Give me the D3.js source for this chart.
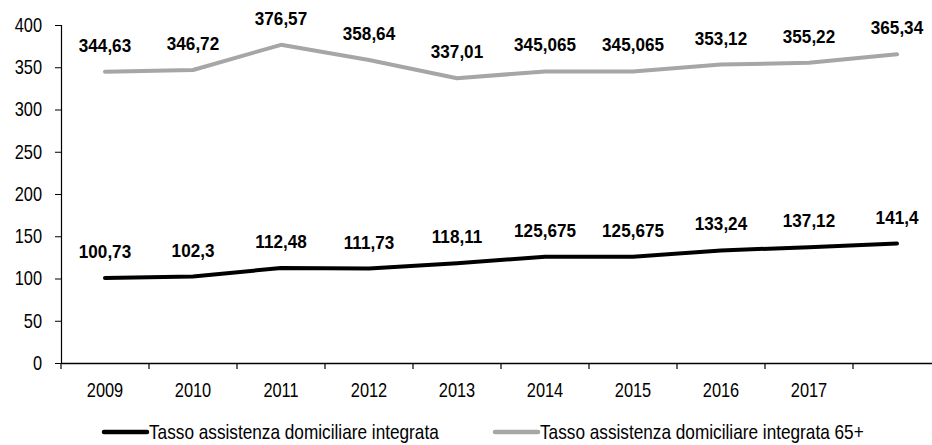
<html>
<head>
    <meta charset="utf-8">
    <style>
        body { margin: 0; background: #fff; }
        text { font-family: "Liberation Sans", Arial, sans-serif; }
    </style>
</head>
<body>
    <script src="https://cdn.jsdelivr.net/npm/d3@7"></script>
    <script>
        var years = ["2009", "2010", "2011", "2012", "2013", "2014", "2015", "2016", "2017", ""];
        var adi = [100.73, 102.3, 112.48, 111.73, 118.11, 125.675, 125.675, 133.24, 137.12, 141.4];
        var adi65 = [344.63, 346.72, 376.57, 358.64, 337.01, 345.065, 345.065, 353.12, 355.22, 365.34];
        var adiLabels = ["100,73", "102,3", "112,48", "111,73", "118,11", "125,675", "125,675", "133,24", "137,12", "141,4"];
        var adi65Labels = ["344,63", "346,72", "376,57", "358,64", "337,01", "345,065", "345,065", "353,12", "355,22", "365,34"];
        var yTicks = [0, 50, 100, 150, 200, 250, 300, 350, 400];
        var seriesNames = ["Tasso assistenza domiciliare integrata", "Tasso assistenza domiciliare integrata 65+"];

        var width = 932, height = 445;
        var narrow = 0.82; // simula Arial Narrow
        var svg = d3.select("body").append("svg")
            .attr("width", width)
            .attr("height", height);

        var x = d3.scaleBand().domain(d3.range(years.length)).range([61, 941]);
        var y = d3.scaleLinear().domain([0, 400]).range([363, 25]);

        // asse y
        svg.append("g")
            .attr("transform", "translate(61,0)")
            .call(d3.axisLeft(y).tickValues(yTicks).tickSize(6))
            .call(g => g.select(".domain").attr("stroke", "#000").attr("stroke-width", 1.2))
            .call(g => g.selectAll("text")
                .attr("font-size", 20).attr("fill", "#000")
                .attr("x", -19 / narrow)
                .attr("transform", "scale(" + narrow + ",1)")
                .style("font-family", '"Liberation Sans", Arial, sans-serif'));

        // asse x
        svg.append("g")
            .attr("transform", "translate(0,363)")
            .call(d3.axisBottom(x).tickSize(0).tickFormat(i => years[i]).tickPadding(20))
            .call(g => g.select(".domain").attr("stroke", "#000").attr("stroke-width", 1.5))
            .call(g => g.selectAll("text")
                .attr("font-size", 20).attr("fill", "#000")
                .attr("transform", "scale(" + narrow + ",1)")
                .style("font-family", '"Liberation Sans", Arial, sans-serif'));

        // tacche tra le categorie
        svg.append("g").selectAll("line")
            .data(d3.range(years.length))
            .enter().append("line")
            .attr("x1", i => x(i)).attr("x2", i => x(i))
            .attr("y1", 363).attr("y2", 369)
            .attr("stroke", "#000").attr("stroke-width", 1.2);

        var cx = i => x(i) + x.bandwidth() / 2;
        var line = d3.line().x((d, i) => cx(i)).y(d => y(d));

        var series = [
            { values: adi, labels: adiLabels, color: "#000" },
            { values: adi65, labels: adi65Labels, color: "#a6a6a6" }
        ];

        series.forEach(function (s) {
            svg.append("path")
                .datum(s.values)
                .attr("fill", "none")
                .attr("stroke", s.color)
                .attr("stroke-width", 4)
                .attr("stroke-linecap", "round")
                .attr("stroke-linejoin", "round")
                .attr("d", line);

            svg.append("g").selectAll("text")
                .data(s.values)
                .enter().append("text")
                .attr("transform", (d, i) => "translate(" + cx(i) + "," + (y(d) - 20) + ") scale(0.9,1)")
                .attr("text-anchor", "middle")
                .attr("font-size", 19)
                .attr("font-weight", "bold")
                .attr("fill", "#000")
                .text((d, i) => s.labels[i]);
        });

        // legenda
        var legend = svg.append("g").attr("transform", "translate(0,432)");
        var legX = [104, 495];
        seriesNames.forEach(function (name, i) {
            legend.append("line")
                .attr("x1", legX[i]).attr("x2", legX[i] + 43)
                .attr("y1", 0).attr("y2", 0)
                .attr("stroke", series[i].color)
                .attr("stroke-width", 4.5)
                .attr("stroke-linecap", "round");
            legend.append("text")
                .attr("transform", "translate(" + (legX[i] + 45) + ",7) scale(" + narrow + ",1)")
                .attr("font-size", 21)
                .attr("fill", "#000")
                .text(name);
        });
    </script>
</body>
</html>
